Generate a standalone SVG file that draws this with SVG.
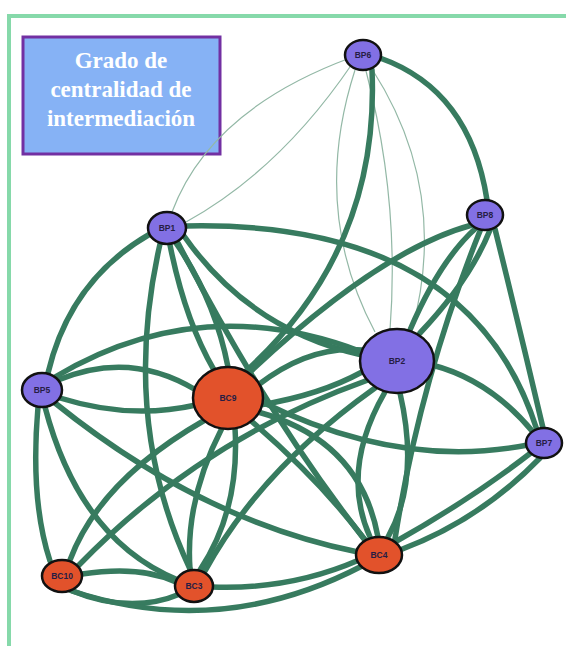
<svg xmlns="http://www.w3.org/2000/svg" width="566" height="646" viewBox="0 0 566 646">
<style>
.frame{fill:none;stroke:#86d9aa;stroke-width:4}
.e{fill:none;stroke:#377b5f;stroke-width:5.5;stroke-linecap:round}
.t{fill:none;stroke:#93b8a6;stroke-width:1.2}
.bp{fill:#8270e4;stroke:#111;stroke-width:2.5}
.bc{fill:#e2522b;stroke:#111;stroke-width:2.5}
.lbl{font-family:"Liberation Sans",Arial,sans-serif;font-weight:bold;font-size:8.5px;fill:#261d44;text-anchor:middle}
.title{font-family:"Liberation Serif","Times New Roman",serif;font-weight:bold;font-size:23px;fill:#fff;text-anchor:middle}
</style>
<rect width="566" height="646" fill="#fff"/>
<path class="frame" d="M9 646 V16 H566"/>
<g id="title">
<rect x="23" y="37" width="197" height="117" fill="#86b2f5" stroke="#7230a2" stroke-width="3"/>
<text class="title" x="121" y="68">Grado de</text>
<text class="title" x="121" y="97">centralidad de</text>
<text class="title" x="121" y="126">intermediación</text>
</g>
<g id="connectors">
<path class="t" d="M350 58 Q210 110 172 212"/>
<path class="t" d="M352 64 Q280 170 186 222"/>
<path class="t" d="M355 70 Q310 210 375 332"/>
<path class="t" d="M366 71 Q400 200 390 330"/>
<path class="t" d="M372 69 Q450 190 412 330"/>
<path class="e" d="M380 58 Q470 90 487 200"/>
<path class="e" d="M372 70 Q380 250 245 372"/>
<path class="e" d="M150 234 Q70 280 48 373"/>
<path class="e" d="M170 245 Q185 320 214 370"/>
<path class="e" d="M176 243 Q215 300 228 367"/>
<path class="e" d="M184 236 Q250 330 362 355"/>
<path class="e" d="M186 226 Q470 220 537 430"/>
<path class="e" d="M160 244 Q120 420 190 569"/>
<path class="e" d="M178 243 Q270 420 365 540"/>
<path class="e" d="M58 380 Q130 350 196 390"/>
<path class="e" d="M60 398 Q130 420 196 405"/>
<path class="e" d="M55 377 Q200 290 362 352"/>
<path class="e" d="M38 407 Q30 500 50 561"/>
<path class="e" d="M45 407 Q80 540 178 580"/>
<path class="e" d="M55 403 Q200 520 358 552"/>
<path class="e" d="M258 385 Q310 345 362 350"/>
<path class="e" d="M260 405 Q320 395 362 372"/>
<path class="e" d="M205 420 Q100 480 70 560"/>
<path class="e" d="M222 428 Q185 500 190 569"/>
<path class="e" d="M235 428 Q240 510 200 570"/>
<path class="e" d="M250 420 Q320 480 365 540"/>
<path class="e" d="M258 412 Q360 440 378 537"/>
<path class="e" d="M262 402 Q400 470 528 445"/>
<path class="e" d="M250 372 Q380 250 472 225"/>
<path class="e" d="M410 330 Q440 260 476 228"/>
<path class="e" d="M420 333 Q470 280 490 230"/>
<path class="e" d="M432 365 Q490 380 533 432"/>
<path class="e" d="M385 392 Q340 470 370 537"/>
<path class="e" d="M400 393 Q420 480 388 537"/>
<path class="e" d="M375 388 Q260 470 205 571"/>
<path class="e" d="M368 380 Q200 440 78 566"/>
<path class="e" d="M495 229 Q520 330 543 428"/>
<path class="e" d="M480 231 Q420 380 395 539"/>
<path class="e" d="M395 542 Q470 500 532 452"/>
<path class="e" d="M400 550 Q480 520 540 458"/>
<path class="e" d="M359 560 Q290 590 212 587"/>
<path class="e" d="M82 574 Q140 565 176 582"/>
<path class="e" d="M70 590 Q130 615 180 594"/>
<path class="e" d="M72 591 Q220 640 362 566"/>
</g>
<g id="BP6"><ellipse class="bp" cx="363" cy="55" rx="18" ry="15"/><text class="lbl" x="363" y="58">BP6</text></g>
<g id="BP1"><ellipse class="bp" cx="167" cy="228" rx="19" ry="16"/><text class="lbl" x="167" y="231">BP1</text></g>
<g id="BP8"><ellipse class="bp" cx="485" cy="215" rx="18" ry="15"/><text class="lbl" x="485" y="218">BP8</text></g>
<g id="BP2"><ellipse class="bp" cx="397" cy="361" rx="37" ry="32"/><text class="lbl" x="397" y="364">BP2</text></g>
<g id="BP5"><ellipse class="bp" cx="42" cy="390" rx="20" ry="17"/><text class="lbl" x="42" y="393">BP5</text></g>
<g id="BC9"><ellipse class="bc" cx="228" cy="398" rx="35" ry="31"/><text class="lbl" x="228" y="401">BC9</text></g>
<g id="BP7"><ellipse class="bp" cx="544" cy="443" rx="18" ry="15"/><text class="lbl" x="544" y="446">BP7</text></g>
<g id="BC4"><ellipse class="bc" cx="379" cy="555" rx="23" ry="18"/><text class="lbl" x="379" y="558">BC4</text></g>
<g id="BC10"><ellipse class="bc" cx="62" cy="576" rx="20" ry="16"/><text class="lbl" x="62" y="579">BC10</text></g>
<g id="BC3"><ellipse class="bc" cx="194" cy="586" rx="19" ry="16"/><text class="lbl" x="194" y="589">BC3</text></g>
</svg>
